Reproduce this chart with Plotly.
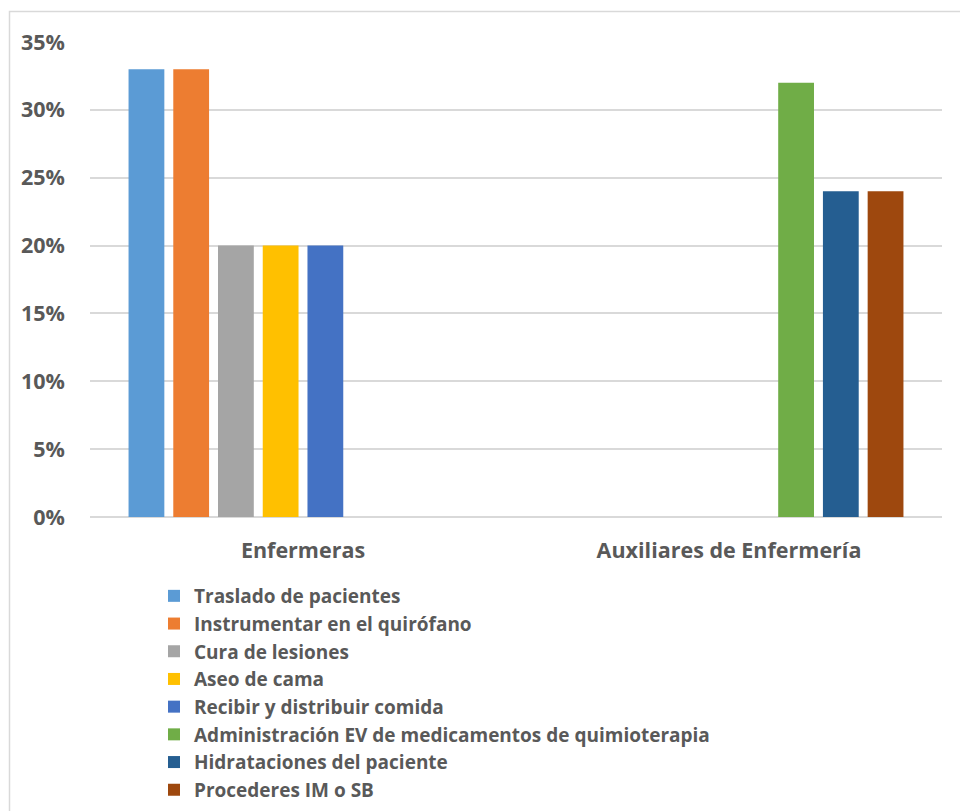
import plotly.graph_objects as go

categories = ["Enfermeras", "Auxiliares de Enfermería"]
series_names = [
    "Traslado de pacientes",
    "Instrumentar en el quirófano",
    "Cura de lesiones",
    "Aseo de cama",
    "Recibir y distribuir comida",
    "Administración EV de medicamentos de quimioterapia",
    "Hidrataciones del paciente",
    "Procederes IM o SB",
]
values_enfermeras = [33, 33, 20, 20, 20, 0, 0, 0]
values_auxiliares = [0, 0, 0, 0, 0, 32, 24, 24]
colors = ["#5B9BD5", "#ED7D31", "#A5A5A5", "#FFC000", "#4472C4", "#70AD47", "#255E91", "#9E480E"]
y_ticks = [0, 5, 10, 15, 20, 25, 30, 35]

FONT = "Open Sans"
fig = go.Figure()
for i, name in enumerate(series_names):
    fig.add_trace(go.Bar(
        x=categories,
        y=[values_enfermeras[i], values_auxiliares[i]],
        name=name,
        marker=dict(color=colors[i], line=dict(width=0)),
    ))

W, H = 960, 811
L, R, T, B = 90, 0, 42, 294
PLOT_RIGHT = 942
pw, ph = W - L - R, H - T - B

def px(x):
    return (x - L) / pw

def py(y):
    return (H - B - y) / ph

fig.update_layout(
    width=W, height=H,
    margin=dict(l=L, r=R, t=T, b=B, pad=0),
    paper_bgcolor="white", plot_bgcolor="white",
    barmode="group", bargap=0.16, bargroupgap=0.2,
    font=dict(family=FONT, color="#595959"),
    showlegend=True,
    legend=dict(
        orientation="v", x=px(154), xanchor="left", y=py(577), yanchor="top",
        font=dict(family=FONT, size=19, color="#595959", weight="bold"),
        bgcolor="rgba(0,0,0,0)", traceorder="normal", tracegroupgap=0,
    ),
    xaxis=dict(
        domain=[0, px(PLOT_RIGHT)],
        showgrid=False, showline=False, zeroline=False,
        tickfont=dict(family=FONT, size=21.5, color="#595959", weight="bold"),
        ticks="", ticklabelstandoff=18,
    ),
    yaxis=dict(
        range=[0, 35], tickvals=y_ticks, ticktext=[f"{v}%" for v in y_ticks],
        showgrid=True, gridcolor="#D9D9D9", gridwidth=1.5,
        zeroline=True, zerolinecolor="#D9D9D9", zerolinewidth=1.5,
        showline=False, ticks="",
        tickfont=dict(family=FONT, size=21.5, color="#595959", weight="bold"),
        ticklabelstandoff=24,
    ),
    shapes=[dict(
        type="rect", xref="paper", yref="paper",
        x0=px(9.5), x1=px(965), y0=py(816), y1=py(11.5),
        line=dict(color="#D9D9D9", width=1.5), fillcolor="rgba(0,0,0,0)", layer="below",
    )],
)

fig.write_html("out.html", config={"displayModeBar": False},
               post_script="document.body.style.margin='0px';")
